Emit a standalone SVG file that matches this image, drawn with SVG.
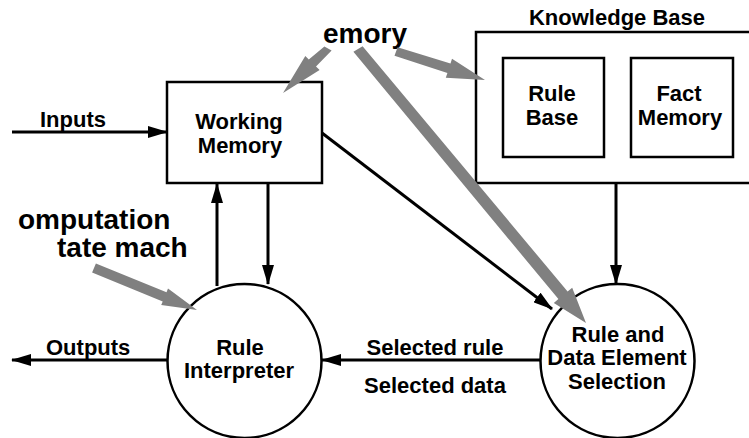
<svg xmlns="http://www.w3.org/2000/svg" width="749" height="438" viewBox="0 0 749 438">
<style>
  .box { fill: #fff; stroke: #000; stroke-width: 2.5; }
  .t { font-family: "Liberation Sans", Arial, Helvetica, sans-serif; font-weight: bold; font-size: 22px; fill: #000; }
  .mid { text-anchor: middle; }
  .big { font-size: 28px; }
  .ln { fill: none; stroke: #000; stroke-width: 3; }
  .ga { fill: #808080; stroke: none; }
</style>
<defs>
  <marker id="ah" markerUnits="userSpaceOnUse" markerWidth="20" markerHeight="12" refX="19" refY="6" orient="auto" viewBox="0 0 20 12">
    <path d="M0,0 L20,6 L0,12 z" fill="#000"/>
  </marker>
</defs>
<rect width="749" height="438" fill="#fff"/>

<g id="knowledge-base">
  <rect class="box" x="476" y="32" width="290" height="151"/>
  <text class="t mid" x="617" y="25">Knowledge Base</text>
</g>
<g id="rule-base">
  <rect class="box" x="503" y="58" width="101" height="99"/>
  <text class="t mid" x="552" y="101">Rule</text>
  <text class="t mid" x="552" y="125">Base</text>
</g>
<g id="fact-memory">
  <rect class="box" x="631" y="58" width="102" height="99"/>
  <text class="t mid" x="679" y="101">Fact</text>
  <text class="t mid" x="680" y="125">Memory</text>
</g>
<g id="working-memory">
  <rect class="box" x="167" y="82" width="155" height="101"/>
  <text class="t mid" x="239" y="129">Working</text>
  <text class="t mid" x="240" y="153">Memory</text>
</g>
<g id="rule-interpreter">
  <circle class="box" cx="244.5" cy="361" r="77"/>
  <text class="t mid" x="240" y="355">Rule</text>
  <text class="t mid" x="239" y="378">Interpreter</text>
</g>
<g id="rule-data-selection">
  <circle class="box" cx="617.5" cy="361" r="77"/>
  <text class="t mid" x="618" y="342">Rule and</text>
  <text class="t mid" x="617" y="365">Data Element</text>
  <text class="t mid" x="617" y="389">Selection</text>
</g>
<g id="annotations">
  <text class="t big" x="323" y="43">emory</text>
  <text class="t big" x="18" y="229">omputation</text>
  <text class="t big" x="57" y="257">tate mach</text>
</g>

<g id="connectors">
  <line class="ln" x1="12" y1="132" x2="167" y2="132" marker-end="url(#ah)"/>
  <text class="t" x="40" y="127">Inputs</text>
  <line class="ln" x1="268" y1="183" x2="268" y2="284" marker-end="url(#ah)"/>
  <line class="ln" x1="217" y1="286" x2="217" y2="184" marker-end="url(#ah)"/>
  <line class="ln" x1="616" y1="183" x2="616" y2="284" marker-end="url(#ah)"/>
  <line class="ln" x1="322" y1="133" x2="552" y2="309" marker-end="url(#ah)"/>
  <line class="ln" x1="540" y1="360" x2="322" y2="360" marker-end="url(#ah)"/>
  <text class="t mid" x="435" y="355">Selected rule</text>
  <text class="t mid" x="435" y="393">Selected data</text>
  <line class="ln" x1="167" y1="360" x2="12" y2="360" marker-end="url(#ah)"/>
  <text class="t" x="46" y="355">Outputs</text>
  <polygon class="ga" points="324.4,46.5 331.6,50.5 316.0,66.5 319.6,70.0 283,93 305.3,56.0 308.8,59.5"/>
  <polygon class="ga" points="362.6,46.2 567.6,291.5 572.2,287.7 586,323 553.8,303.0 558.4,299.1 353.4,51.8"/>
  <polygon class="ga" points="397.6,47.2 450.5,63.4 452.0,58.7 485,80 445.8,77.7 447.4,73.0 394.5,55.8"/>
  <polygon class="ga" points="95.9,263.4 166.5,292.2 168.0,288.5 197,310 161.2,305.1 162.7,301.4 92.1,272.6"/>
</g>
</svg>
